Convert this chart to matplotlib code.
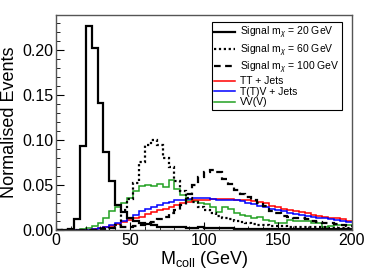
import numpy as np
import matplotlib
matplotlib.use("Agg")
import matplotlib.pyplot as plt
from matplotlib.lines import Line2D
from matplotlib.ticker import MultipleLocator

plt.rcParams['font.family'] = ['Liberation Sans', 'DejaVu Sans']
plt.rcParams['mathtext.fontset'] = 'custom'
plt.rcParams['mathtext.rm'] = 'Liberation Sans'
plt.rcParams['mathtext.it'] = 'Liberation Sans:italic'

bin_edges = np.arange(0, 204, 4)

signal_20 = [0, 0, 0.001, 0.012, 0.093, 0.227, 0.202, 0.141, 0.087, 0.055,
             0.028, 0.020, 0.013, 0.010, 0.008, 0.007, 0.006, 0.004, 0.004, 0.0035,
             0.003, 0.003, 0.0025, 0.002, 0.003, 0.002, 0.002, 0.002, 0.0018, 0.0018,
             0.0017, 0.0016, 0.0016, 0.0015, 0.0015, 0.0014, 0.0014, 0.0013, 0.0013, 0.0012,
             0.0012, 0.0012, 0.0011, 0.0011, 0.001, 0.001, 0.001, 0.001, 0.001, 0.001]

signal_60 = [0, 0, 0, 0, 0, 0, 0, 0, 0.001, 0.002,
             0.006, 0.022, 0.035, 0.052, 0.076, 0.095, 0.100, 0.094, 0.080, 0.070,
             0.055, 0.044, 0.036, 0.031, 0.026, 0.022, 0.019, 0.016, 0.014, 0.012,
             0.010, 0.009, 0.008, 0.007, 0.006, 0.0055, 0.005, 0.005, 0.0045, 0.004,
             0.004, 0.0035, 0.0035, 0.003, 0.003, 0.003, 0.0025, 0.0025, 0.0025, 0.002]

signal_100 = [0, 0, 0, 0, 0, 0, 0, 0.001, 0.002, 0.002,
              0.003, 0.003, 0.004, 0.005, 0.006, 0.008, 0.009, 0.012, 0.015, 0.019,
              0.022, 0.028, 0.040, 0.050, 0.059, 0.065, 0.067, 0.064, 0.057, 0.051,
              0.045, 0.040, 0.037, 0.034, 0.030, 0.027, 0.021, 0.019, 0.016, 0.015,
              0.014, 0.013, 0.012, 0.010, 0.009, 0.008, 0.008, 0.007, 0.006, 0.005]

tt_jets = [0, 0, 0, 0, 0, 0.0005, 0.001, 0.002, 0.003, 0.005,
           0.007, 0.009, 0.011, 0.013, 0.015, 0.018, 0.020, 0.022, 0.024, 0.026,
           0.028, 0.030, 0.031, 0.033, 0.034, 0.034, 0.035, 0.035, 0.035, 0.035,
           0.034, 0.033, 0.033, 0.032, 0.031, 0.030, 0.027, 0.026, 0.023, 0.022,
           0.021, 0.020, 0.019, 0.017, 0.016, 0.015, 0.014, 0.013, 0.012, 0.010]

ttv_jets = [0, 0, 0, 0, 0, 0.0005, 0.001, 0.002, 0.004, 0.006,
            0.008, 0.010, 0.014, 0.017, 0.021, 0.024, 0.026, 0.028, 0.030, 0.031,
            0.033, 0.034, 0.035, 0.036, 0.036, 0.036, 0.035, 0.034, 0.034, 0.033,
            0.033, 0.032, 0.030, 0.029, 0.027, 0.026, 0.024, 0.022, 0.021, 0.019,
            0.018, 0.017, 0.016, 0.015, 0.014, 0.013, 0.012, 0.011, 0.010, 0.009]

vv = [0, 0, 0, 0, 0.001, 0.002, 0.005, 0.008, 0.013, 0.021,
      0.026, 0.030, 0.036, 0.044, 0.049, 0.050, 0.049, 0.051, 0.048, 0.056,
      0.046, 0.039, 0.033, 0.032, 0.030, 0.029, 0.026, 0.020, 0.026, 0.024,
      0.019, 0.017, 0.016, 0.013, 0.015, 0.011, 0.010, 0.008, 0.008, 0.011,
      0.010, 0.010, 0.010, 0.008, 0.008, 0.004, 0.005, 0.006, 0.006, 0.006]

labels = ["Signal m$_{\\chi}$ = 20 GeV", "Signal m$_{\\chi}$ = 60 GeV",
          "Signal m$_{\\chi}$ = 100 GeV", "TT + Jets", "T(T)V + Jets", "VV(V)"]

fig = plt.figure(figsize=(3.74, 2.72), dpi=100)
ax = fig.add_axes([0.150, 0.154, 0.791, 0.791])

green = '#22a022'
ax.stairs(vv, bin_edges, color=green, lw=1.1, baseline=None)
ax.stairs(tt_jets, bin_edges, color='red', lw=1.1, baseline=None)
ax.stairs(ttv_jets, bin_edges, color='blue', lw=1.1, baseline=None)
ax.stairs(signal_100, bin_edges, color='black', lw=1.6, ls=(0, (3, 2)), baseline=None)
ax.stairs(signal_60, bin_edges, color='black', lw=1.6, ls=(0, (1, 1.2)), baseline=None)
ax.stairs(signal_20, bin_edges, color='black', lw=1.6, baseline=None)

ax.set_xlim(0, 200)
ax.set_ylim(0, 0.239)
ax.xaxis.set_major_locator(MultipleLocator(50))
ax.xaxis.set_minor_locator(MultipleLocator(10))
ax.yaxis.set_major_locator(MultipleLocator(0.05))
ax.yaxis.set_minor_locator(MultipleLocator(0.01))
ax.yaxis.set_major_formatter(matplotlib.ticker.FormatStrFormatter('%.2f'))
ax.tick_params(which='both', direction='in', top=False, right=False, labelsize=11.5, pad=2)
ax.tick_params(which='major', length=6, width=0.8)
ax.tick_params(which='minor', length=3, width=0.6)
for s in ax.spines.values():
    s.set_color('#555555')
    s.set_linewidth(1.0)

ax.set_ylabel("Normalised Events", fontsize=13, labelpad=3)
ax.set_xlabel("M$_{\\mathrm{coll}}$ (GeV)", fontsize=13, labelpad=1)

handles = [
    Line2D([], [], color='black', lw=1.6),
    Line2D([], [], color='black', lw=1.6, ls=(0, (1, 1.2))),
    Line2D([], [], color='black', lw=1.6, ls=(0, (3, 2))),
    Line2D([], [], color='red', lw=1.1),
    Line2D([], [], color='blue', lw=1.1),
    Line2D([], [], color=green, lw=1.1),
]
leg = ax.legend(handles, labels, loc='upper right', bbox_to_anchor=(0.968, 0.965),
                fontsize=7.5, frameon=True, fancybox=False, edgecolor='black',
                framealpha=1, borderpad=0.25, labelspacing=0.06, handlelength=2.0,
                handletextpad=0.5, borderaxespad=0.0)
leg.get_frame().set_linewidth(0.8)

fig.savefig("out.png", dpi=100)
